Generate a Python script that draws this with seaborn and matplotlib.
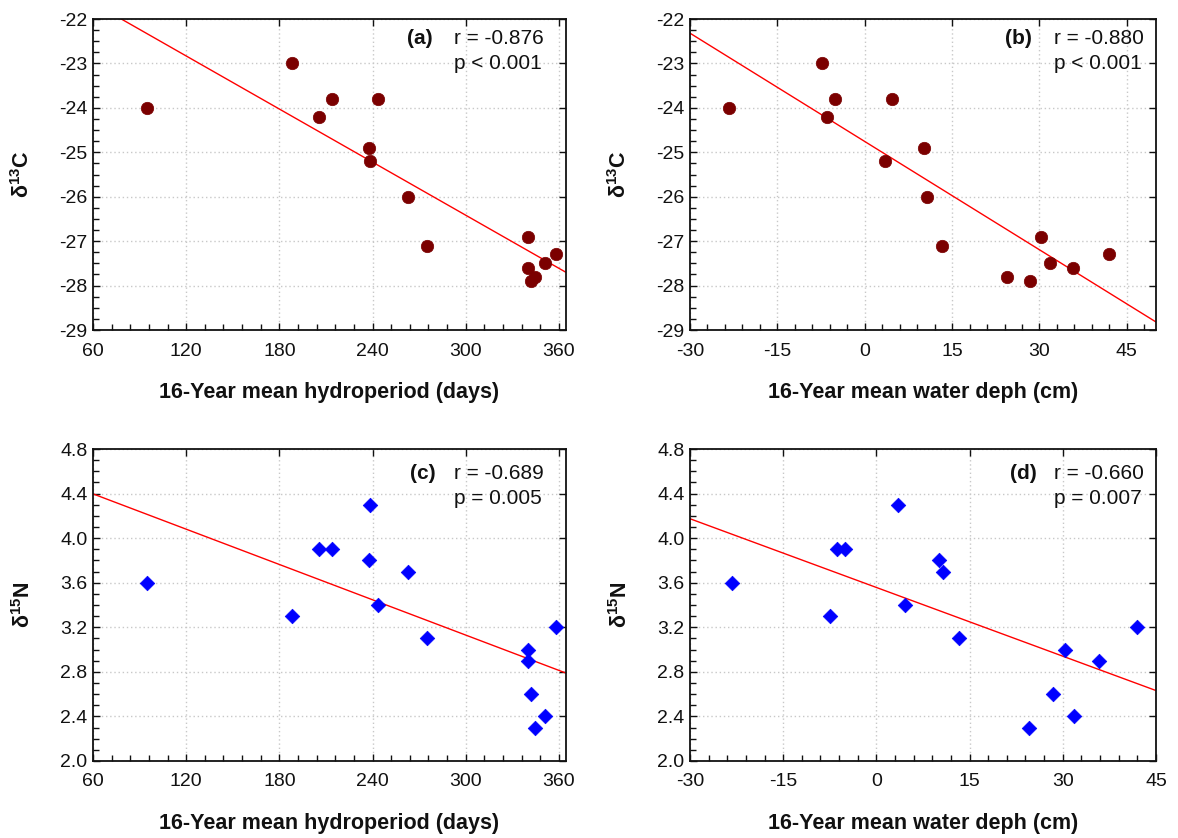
import numpy as np
import pandas as pd
import matplotlib
matplotlib.use("Agg")
import matplotlib.pyplot as plt
import seaborn as sns
from matplotlib.ticker import MultipleLocator, FormatStrFormatter

# values
hydroperiod = [95, 188, 205.5, 214, 238, 238.5, 243.5, 263, 275, 340, 340, 342, 344.5, 351, 358]
depth = [-23.3, -7.4, -6.4, -5.1, 10.1, 3.5, 4.6, 10.7, 13.3, 30.3, 35.8, 28.4, 24.5, 31.8, 41.9]
d13c = [-24.0, -23.0, -24.2, -23.8, -24.9, -25.2, -23.8, -26.0, -27.1, -26.9, -27.6, -27.9, -27.8, -27.5, -27.3]
d15n = [3.6, 3.3, 3.9, 3.9, 3.8, 4.3, 3.4, 3.7, 3.1, 3.0, 2.9, 2.6, 2.3, 2.4, 3.2]

panel_tags = ["(a)", "(b)", "(c)", "(d)"]
r_text = ["r = -0.876", "r = -0.880", "r = -0.689", "r = -0.660"]
p_text = ["p < 0.001", "p < 0.001", "p = 0.005", "p = 0.007"]

df = pd.DataFrame({"hydro": hydroperiod, "depth": depth, "c": d13c, "n": d15n})

sns.set_style("ticks")
plt.rcParams["font.family"] = ["Liberation Sans", "DejaVu Sans"]
plt.rcParams["axes.unicode_minus"] = False
plt.rcParams["mathtext.fontset"] = "custom"
plt.rcParams["mathtext.rm"] = "Liberation Sans"
plt.rcParams["mathtext.it"] = "Liberation Sans"
plt.rcParams["text.color"] = "#111111"
plt.rcParams["axes.labelcolor"] = "#111111"

fig = plt.figure(figsize=(11.78, 8.38), dpi=100)
boxes = [
    [0.0789, 0.6062, 0.4015, 0.3711],
    [0.5857, 0.6062, 0.3956, 0.3711],
    [0.0789, 0.0919, 0.4015, 0.3723],
    [0.5857, 0.0919, 0.3956, 0.3723],
]
# where the panel tag and the r / p text sit (axes fraction)
tag_x = [0.691, 0.704, 0.698, 0.715]
txt_x = [0.763, 0.781, 0.763, 0.781]
line1_y = [0.936, 0.936, 0.923, 0.923]
line2_y = [0.858, 0.858, 0.842, 0.842]

panels = [
    # x col, y col, xlim, ylim, xstep, xminor, ystep, yminor, marker, color, size
    ("hydro", "c", (60, 364.5), (-29, -22), 60, 12, 1, 0.25, "o", "#7b0000", 80),
    ("depth", "c", (-30, 50), (-29, -22), 15, 3, 1, 0.25, "o", "#7b0000", 80),
    ("hydro", "n", (60, 364.5), (2.0, 4.8), 60, 12, 0.4, 0.1, "D", "#0000ff", 55),
    ("depth", "n", (-30, 45), (2.0, 4.8), 15, 3, 0.4, 0.1, "D", "#0000ff", 55),
]
xlabels = {"hydro": "16-Year mean hydroperiod (days)", "depth": "16-Year mean water deph (cm)"}
ylabels = {"c": r"$\mathregular{\delta^{13}}$C", "n": r"$\mathregular{\delta^{15}}$N"}

for i, (xc, yc, xl, yl, xs, xm, ys, ym, mk, col, sz) in enumerate(panels):
    ax = fig.add_axes(boxes[i])
    ax.set_xlim(*xl)
    ax.set_ylim(*yl)
    ax.grid(True, color="#c8c8c8", linestyle=(0, (1, 2)), linewidth=1.0)
    sns.regplot(data=df, x=xc, y=yc, ax=ax, scatter=False, ci=None, truncate=False,
                line_kws={"color": "#ff0000", "linewidth": 1.0})
    sns.scatterplot(data=df, x=xc, y=yc, ax=ax, marker=mk, color=col, s=sz,
                    edgecolor=col, linewidth=0.5, zorder=5)
    ax.set_xlim(*xl)
    ax.set_ylim(*yl)
    ax.xaxis.set_major_locator(MultipleLocator(xs))
    ax.xaxis.set_minor_locator(MultipleLocator(xm))
    ax.yaxis.set_major_locator(MultipleLocator(ys))
    ax.yaxis.set_minor_locator(MultipleLocator(ym))
    if yc == "n":
        ax.yaxis.set_major_formatter(FormatStrFormatter("%.1f"))
    ax.tick_params(which="major", direction="in", length=5, width=1, labelsize=14,
                   top=True, right=True, colors="#111111", labelcolor="#111111")
    ax.tick_params(axis="x", which="major", pad=9)
    ax.tick_params(axis="y", which="major", pad=4)
    ax.tick_params(which="minor", direction="in", length=4, width=1,
                   top=False, right=False, colors="#111111")
    for sp in ax.spines.values():
        sp.set_visible(True)
        sp.set_linewidth(1.3)
        sp.set_color("#111111")
    ax.set_xlabel(xlabels[xc], fontsize=15.5, fontweight="bold", labelpad=16)
    ax.set_ylabel(ylabels[yc], fontsize=15.5, fontweight="bold", labelpad=18)
    ax.text(tag_x[i], line1_y[i], panel_tags[i], transform=ax.transAxes, fontsize=15,
            fontweight="bold", va="center", ha="center")
    ax.text(txt_x[i], line1_y[i], r_text[i], transform=ax.transAxes, fontsize=15,
            va="center", ha="left")
    ax.text(txt_x[i], line2_y[i], p_text[i], transform=ax.transAxes, fontsize=15,
            va="center", ha="left")

fig.savefig("out.png", dpi=100)
